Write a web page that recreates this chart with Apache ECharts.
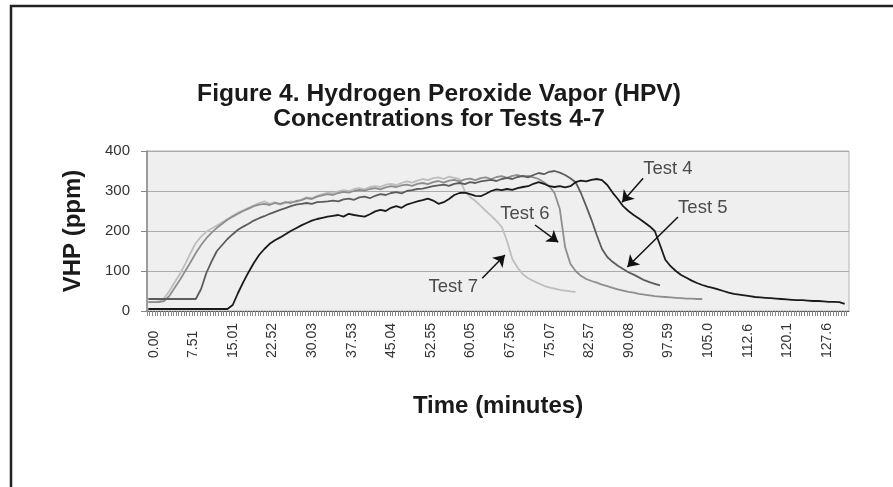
<!DOCTYPE html>
<html>
<head>
<meta charset="utf-8">
<script src="https://cdn.jsdelivr.net/npm/echarts@6/dist/echarts.min.js"></script>
<style>
html,body{margin:0;padding:0;background:#fff;}
#chart{width:893px;height:487px;}
</style>
</head>
<body>
<div id="chart"></div>
<script>
// ---- data (VHP ppm sampled every SAMPLE_MIN minutes, starting at t = 0) ----
const SAMPLE_MIN = 1.0;
const seriesNames = ['Test 4', 'Test 5', 'Test 6', 'Test 7'];
const test4 = [5,5,5,5,5,5,5,5,5,5,5,5,5,5,5,5,15,45,72,97,120,140,155,168,177,184,192,200,207,214,220,226,230,233,236,238,240,236,243,240,238,236,242,249,253,250,258,262,258,266,270,274,277,281,276,268,272,280,290,295,296,292,288,287,293,300,304,302,305,303,307,310,312,318,322,318,312,310,312,309,312,322,326,324,328,330,327,315,296,280,262,250,240,231,222,212,200,165,128,112,100,90,83,76,70,65,61,58,54,50,46,43,41,39,37,35,34,33,32,31,30,29,28,27,27,26,25,25,24,23,23,22,18];
const test5 = [30,30,30,30,30,30,30,30,30,30,55,95,124,150,165,180,192,203,211,218,226,232,237,243,248,253,257,262,266,268,270,268,272,273,274,276,274,279,281,278,284,286,282,288,292,290,295,297,294,300,302,305,306,309,312,314,316,313,318,320,317,322,320,324,326,328,325,330,333,330,335,338,334,340,345,342,348,350,346,340,332,322,295,262,228,190,155,135,123,113,105,97,91,84,77,72,68,64];
const test6 = [22,22,22,25,38,58,78,100,122,145,165,182,196,208,218,228,236,243,250,256,262,266,268,265,270,268,272,270,275,277,282,280,286,289,292,290,295,298,296,300,303,301,305,307,304,309,312,310,314,316,313,318,320,317,322,325,321,326,328,324,329,331,327,332,334,330,335,337,333,338,340,336,338,334,330,322,312,295,255,160,118,100,88,80,75,71,66,62,58,54,51,48,46,43,41,39,37,36,35,34,33,32,31,31,30,30];
const test7 = [22,22,24,32,50,72,93,118,145,170,186,198,206,214,222,230,238,246,252,258,264,270,274,268,272,266,270,274,272,278,284,282,288,292,296,294,299,302,300,305,307,304,310,312,310,316,318,315,320,324,321,326,330,327,332,334,330,336,333,330,300,285,275,263,250,238,225,210,175,130,108,92,82,75,69,63,59,56,53,51,49,48];

// axis tick labels
const xTickLabels = ['0.00','7.51','15.01','22.52','30.03','37.53','45.04','52.55','60.05','67.56','75.07','82.57','90.08','97.59','105.0','112.6','120.1','127.6'];
const yTickLabels = ['0','100','200','300','400'];

// annotations (data units)
const annoLabels = ['Test 4', 'Test 5', 'Test 6', 'Test 7'];
const annoText = [[98.5, 355], [105.1, 257], [71.4, 242], [57.8, 60]];
const annoArrowFrom = [[93.8, 332], [100.4, 235], [73.3, 215], [63.3, 82]];
const annoArrowTo = [[89.8, 272], [90.8, 110], [77.7, 172], [67.6, 140]];

// ---- chart ----
const FONT = '"Liberation Sans", Arial, Helvetica, sans-serif';
const toPairs = arr => arr.map((v, i) => [i * SAMPLE_MIN, v]);
const xTickValues = xTickLabels.map(Number);
const LABEL_NUDGE = 1.04; // Excel draws the rotated labels slightly right of their category
const xLabelPos = xTickValues.map(v => v + LABEL_NUDGE);
const X_MIN = -0.25, X_MAX = 132.82, CAT_STEP = 0.5004;
const minorTicks = [];
for (let t = X_MIN; t <= X_MAX + 1e-6; t += CAT_STEP) minorTicks.push(+t.toFixed(4));

const colors = ['#1a1a1a', '#5c5c5c', '#8e8e8e', '#bebebe'];
const dataSets = [test4, test5, test6, test7];

const lineSeries = [3, 2, 1, 0].map(i => ({
  name: seriesNames[i],
  type: 'line',
  data: toPairs(dataSets[i]),
  showSymbol: false,
  symbol: 'none',
  lineStyle: { color: colors[i], width: 1.8 },
  animation: false,
  z: 3
}));

const annoSeries = {
  type: 'scatter',
  data: annoText.map((p, i) => ({ value: p, name: annoLabels[i] })),
  symbolSize: 0,
  label: {
    show: true, position: 'inside', formatter: p => p.name,
    fontFamily: FONT, fontSize: 18.5, color: '#222'
  },
  markLine: {
    silent: true,
    symbol: ['none', 'arrow'],
    symbolSize: 11,
    label: { show: false },
    lineStyle: { color: '#111', width: 1.5, type: 'solid' },
    data: annoArrowFrom.map((f, i) => [{ coord: f }, { coord: annoArrowTo[i] }]),
    animation: false
  },
  animation: false,
  z: 5
};

const chart = echarts.init(document.getElementById('chart'), null, { renderer: 'canvas' });
chart.setOption({
  animation: false,
  backgroundColor: '#ffffff',
  title: {
    text: 'Figure 4. Hydrogen Peroxide Vapor (HPV)\nConcentrations for Tests 4-7',
    left: 434, top: 77, textAlign: 'center',
    textStyle: { fontFamily: FONT, fontSize: 24.6, fontWeight: 'bold', color: '#1a1a1a', lineHeight: 25 }
  },
  graphic: [{
    type: 'polyline',
    shape: { points: [[11, 487], [11, 6], [893, 6]] },
    style: { stroke: '#222', lineWidth: 2.5, fill: null }
  }],
  grid: {
    left: 147, top: 151, width: 702, height: 160,
    show: true, backgroundColor: '#eeefee', borderColor: '#b4b4b4', borderWidth: 1
  },
  xAxis: {
    type: 'value', min: X_MIN, max: X_MAX,
    name: 'Time (minutes)', nameLocation: 'middle', nameGap: 83,
    nameTextStyle: { fontFamily: FONT, fontSize: 24, fontWeight: 'bold', color: '#1a1a1a' },
    axisLine: { show: true, onZero: false, lineStyle: { color: '#555', width: 1 } },
    axisTick: { show: true, customValues: minorTicks, length: 5, inside: false, lineStyle: { color: '#888', width: 1 } },
    axisLabel: {
      customValues: xLabelPos,
      formatter: v => { const k = xLabelPos.findIndex(x => Math.abs(x - v) < 1e-6); return k >= 0 ? xTickLabels[k] : ''; },
      rotate: 90, align: 'left', verticalAlign: 'middle', margin: 47,
      fontFamily: FONT, fontSize: 14, color: '#333'
    },
    splitLine: { show: false }
  },
  yAxis: {
    type: 'value', min: 0, max: 400, interval: 100,
    name: 'VHP (ppm)', nameLocation: 'middle', nameGap: 62,
    nameTextStyle: { fontFamily: FONT, fontSize: 24, fontWeight: 'bold', color: '#1a1a1a' },
    axisLine: { show: true, onZero: false, lineStyle: { color: '#888', width: 1.5 } },
    axisTick: { show: true, length: 6, lineStyle: { color: '#888' } },
    axisLabel: {
      formatter: v => yTickLabels[Math.round(v / 100)],
      margin: 17, fontFamily: FONT, fontSize: 15, color: '#333'
    },
    splitLine: { show: true, lineStyle: { color: '#ababab', width: 1 } }
  },
  series: lineSeries.concat([annoSeries])
});
</script>
</body>
</html>
